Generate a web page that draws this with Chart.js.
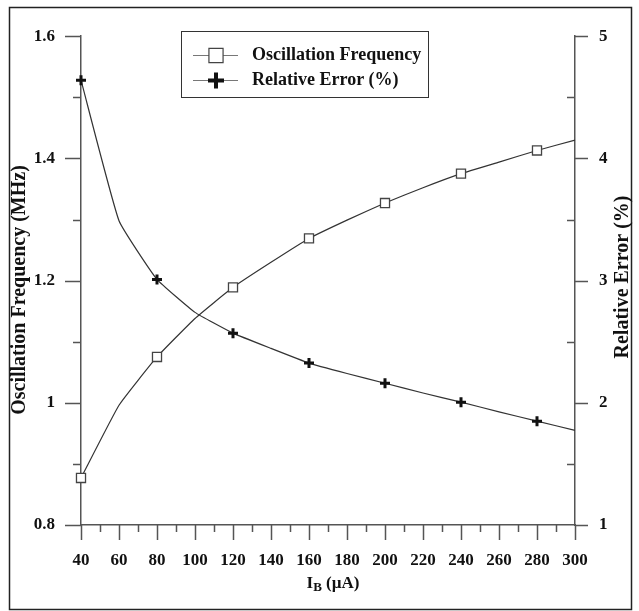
<!DOCTYPE html>
<html>
<head>
<meta charset="utf-8">
<script src="https://cdn.jsdelivr.net/npm/chart.js@4.4.1/dist/chart.umd.min.js"></script>
<style>
  html, body { margin: 0; padding: 0; background: #fff; }
</style>
</head>
<body>
<canvas id="chart" width="639" height="611"></canvas>
<script>
// bias current I_B (uA); markers only on every other sample
const currents = [40, 60, 80, 100, 120, 140, 160, 180, 200, 220, 240, 260, 280, 300];
const markedCurrents = [40, 80, 120, 160, 200, 240, 280];
const frequency = [0.877, 0.996, 1.075, 1.138, 1.189, 1.230, 1.269, 1.299, 1.327, 1.352, 1.375, 1.394, 1.413, 1.430];
const relError = [4.64, 3.49, 3.01, 2.74, 2.57, 2.445, 2.325, 2.24, 2.16, 2.08, 2.005, 1.926, 1.85, 1.775];

const seriesNames = ['Oscillation Frequency', 'Relative Error (%)'];
const xTitle = ['I', 'B', ' (\u00b5A)'];
const leftTitle = 'Oscillation Frequency (MHz)';
const rightTitle = 'Relative Error (%)';

const FONT = '"Liberation Serif", "Times New Roman", serif';
const axisColor = '#555';
const textColor = '#111';

const toPoints = ys => currents.map((c, i) => ({x: c, y: ys[i]}));
const markRadius = r => ctx => markedCurrents.includes(currents[ctx.dataIndex]) ? r : 0;

// minor/major tick marks drawn on the axis lines
const axisTicks = {
    id: 'axisTicks',
    afterDraw(chart) {
        const {ctx, chartArea: a} = chart;
        const {x, yF, yE} = chart.scales;
        ctx.save();
        ctx.strokeStyle = axisColor;
        ctx.lineWidth = 1.5;
        ctx.beginPath();
        for (let v = x.min; v <= x.max; v += 10) {
            const px = Math.round(x.getPixelForValue(v)) + 0.5;
            const len = (v % 20 === 0) ? 15 : 7;
            ctx.moveTo(px, a.bottom);
            ctx.lineTo(px, a.bottom + len);
        }
        for (let i = 0; i <= 8; i++) {
            const v = yF.min + i * 0.1;
            const py = Math.round(yF.getPixelForValue(v)) + 0.5;
            const len = (i % 2 === 0) ? 16 : 8;
            ctx.moveTo(a.left, py);
            ctx.lineTo(a.left - len, py);
        }
        for (let i = 0; i <= 8; i++) {
            const v = yE.min + i * 0.5;
            const py = Math.round(yE.getPixelForValue(v)) + 0.5;
            ctx.moveTo(a.right, py);
            ctx.lineTo(i % 2 === 0 ? a.right + 13 : a.right - 8, py);
        }
        ctx.stroke();
        ctx.restore();
    }
};

// legend box, axis titles, x title with subscript, outer frame
const decorations = {
    id: 'decorations',
    afterDraw(chart) {
        const {ctx, chartArea: a} = chart;
        ctx.save();

        // outer frame
        ctx.strokeStyle = '#222';
        ctx.lineWidth = 1.5;
        ctx.strokeRect(9.5, 7.5, 622, 602);

        // legend
        ctx.lineWidth = 1;
        ctx.strokeStyle = '#333';
        ctx.strokeRect(181.5, 31.5, 247, 66);
        const rows = [55, 80];
        ctx.strokeStyle = '#777';
        ctx.lineWidth = 1.2;
        rows.forEach(y => {
            ctx.beginPath();
            ctx.moveTo(193, y + 0.5);
            ctx.lineTo(238, y + 0.5);
            ctx.stroke();
        });
        ctx.fillStyle = '#fff';
        ctx.strokeStyle = '#444';
        Chart.helpers.drawPoint(ctx, {pointStyle: 'rect', radius: 10, borderWidth: 1.2, rotation: 0}, 216, rows[0] + 0.5);
        ctx.strokeStyle = '#111';
        ctx.lineWidth = 4;
        Chart.helpers.drawPoint(ctx, {pointStyle: 'cross', radius: 8, borderWidth: 4, rotation: 0}, 216, rows[1] + 0.5);

        ctx.fillStyle = textColor;
        ctx.font = 'bold 18px ' + FONT;
        ctx.textBaseline = 'middle';
        ctx.textAlign = 'left';
        ctx.fillText(seriesNames[0], 252, rows[0]);
        ctx.fillText(seriesNames[1], 252, rows[1]);

        // y titles, both read bottom to top
        ctx.font = 'bold 20px ' + FONT;
        ctx.textAlign = 'center';
        [[leftTitle, 20, 290], [rightTitle, 623, 277]].forEach(([t, cx, cy]) => {
            ctx.save();
            ctx.translate(cx, cy);
            ctx.rotate(-Math.PI / 2);
            ctx.fillText(t, 0, 0);
            ctx.restore();
        });

        // x title: I with subscript B
        const big = 'bold 17px ' + FONT, small = 'bold 13px ' + FONT;
        ctx.font = big;
        const w0 = ctx.measureText(xTitle[0]).width;
        const w2 = ctx.measureText(xTitle[2]).width;
        ctx.font = small;
        const w1 = ctx.measureText(xTitle[1]).width;
        let tx = 333 - (w0 + w1 + w2) / 2;
        const ty = 584;
        ctx.textAlign = 'left';
        ctx.font = big;
        ctx.fillText(xTitle[0], tx, ty);
        tx += w0;
        ctx.font = small;
        ctx.fillText(xTitle[1], tx, ty + 4);
        tx += w1;
        ctx.font = big;
        ctx.fillText(xTitle[2], tx, ty);

        ctx.restore();
    }
};

const tickFont = {family: FONT, size: 17, weight: 'bold'};

new Chart(document.getElementById('chart'), {
    type: 'line',
    data: {
        datasets: [{
            label: seriesNames[0],
            data: toPoints(frequency),
            yAxisID: 'yF',
            borderColor: '#333',
            borderWidth: 1.2,
            tension: 0.12,
            pointStyle: 'rect',
            pointRadius: markRadius(6.4),
            pointBackgroundColor: '#fff',
            pointBorderColor: '#444',
            pointBorderWidth: 1.3,
            clip: false
        }, {
            label: seriesNames[1],
            data: toPoints(relError),
            yAxisID: 'yE',
            borderColor: '#333',
            borderWidth: 1.2,
            tension: 0.12,
            pointStyle: 'cross',
            pointRadius: markRadius(5),
            pointBorderColor: '#111',
            pointBorderWidth: 3,
            clip: false
        }]
    },
    options: {
        responsive: false,
        animation: false,
        events: [],
        layout: {padding: {top: 34, left: 0, right: 0, bottom: 0}},
        plugins: {
            legend: {display: false},
            tooltip: {enabled: false}
        },
        scales: {
            x: {
                type: 'linear',
                min: 40,
                max: 300,
                grid: {display: false, drawTicks: false},
                border: {display: true, color: axisColor, width: 1.5},
                ticks: {stepSize: 20, padding: 25, color: textColor, font: tickFont, maxRotation: 0},
                afterFit: s => { s.height = 86; }
            },
            yF: {
                type: 'linear',
                position: 'left',
                min: 0.8,
                max: 1.6,
                grid: {display: false, drawTicks: false},
                border: {display: true, color: axisColor, width: 1.5},
                ticks: {stepSize: 0.2, padding: 26, color: textColor, font: tickFont,
                        callback: v => String(+v.toFixed(1))},
                afterFit: s => { s.width = 81; }
            },
            yE: {
                type: 'linear',
                position: 'right',
                min: 1,
                max: 5,
                grid: {display: false, drawTicks: false},
                border: {display: true, color: axisColor, width: 1.5},
                ticks: {stepSize: 1, padding: 24, color: textColor, font: tickFont},
                afterFit: s => { s.width = 64; }
            }
        }
    },
    plugins: [axisTicks, decorations]
});
</script>
</body>
</html>
